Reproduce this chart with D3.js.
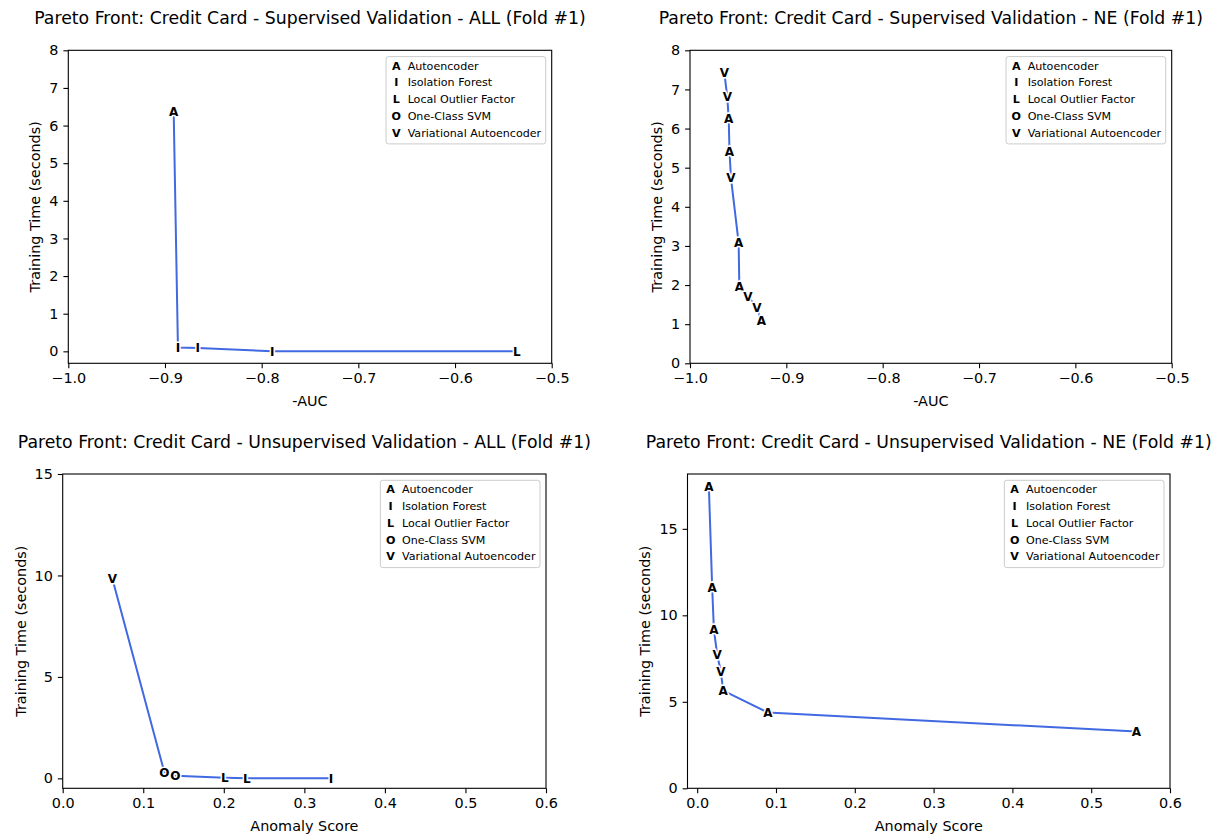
<!DOCTYPE html>
<html>
<head>
<meta charset="utf-8">
<script src="https://cdn.jsdelivr.net/npm/d3@7"></script>
<style>
body { margin: 0; background: #fff; }
text { font-family: "DejaVu Sans", sans-serif; }
</style>
</head>
<body>
<svg id="chart" width="1220" height="836"></svg>
<script>
// legend entries
var legendCodes = ["A", "I", "L", "O", "V"];
var legendNames = ["Autoencoder", "Isolation Forest", "Local Outlier Factor", "One-Class SVM", "Variational Autoencoder"];

// Supervised validation - ALL
var supAllModel = ["A", "I", "I", "I", "L"];
var supAllAUC   = [-0.891, -0.8866, -0.866, -0.789, -0.536];
var supAllTime  = [6.37, 0.10, 0.09, 0.0, 0.0];

// Supervised validation - NE
var supNeModel = ["V", "V", "A", "A", "V", "A", "A", "V", "V", "A"];
var supNeAUC   = [-0.9644, -0.9613, -0.9598, -0.959, -0.9575, -0.9495, -0.9488, -0.9398, -0.9305, -0.926];
var supNeTime  = [7.43, 6.81, 6.24, 5.42, 4.74, 3.08, 1.96, 1.70, 1.43, 1.08];

// Unsupervised validation - ALL
var unsAllModel = ["V", "O", "O", "L", "L", "I"];
var unsAllScore = [0.0616, 0.1262, 0.140, 0.2012, 0.2286, 0.333];
var unsAllTime  = [9.85, 0.30, 0.13, 0.03, 0.0, 0.0];

// Unsupervised validation - NE
var unsNeModel = ["A", "A", "A", "V", "V", "A", "A", "A"];
var unsNeScore = [0.0148, 0.019, 0.0212, 0.0254, 0.030, 0.033, 0.0897, 0.5574];
var unsNeTime  = [17.46, 11.62, 9.17, 7.72, 6.75, 5.65, 4.38, 3.28];

// tick values
var aucTicks   = [-1.0, -0.9, -0.8, -0.7, -0.6, -0.5];
var scoreTicks = [0.0, 0.1, 0.2, 0.3, 0.4, 0.5, 0.6];
var time8Ticks  = [0, 1, 2, 3, 4, 5, 6, 7, 8];
var time15Ticks = [0, 5, 10, 15];

var svg = d3.select("#chart");
var lineColor = "#4169e1";

var panels = [
    { title: "Pareto Front: Credit Card - Supervised Validation - ALL (Fold #1)",
      xlabel: "-AUC", model: supAllModel, xs: supAllAUC, ys: supAllTime,
      box: [68.3, 551.7, 50.3, 363.3], xdom: [-1.0, -0.5], ydom: [-0.318, 8],
      xticks: aucTicks, yticks: time8Ticks },
    { title: "Pareto Front: Credit Card - Supervised Validation - NE (Fold #1)",
      xlabel: "-AUC", model: supNeModel, xs: supNeAUC, ys: supNeTime,
      box: [690, 1171.7, 50.3, 363.3], xdom: [-1.0, -0.5], ydom: [0, 8],
      xticks: aucTicks, yticks: time8Ticks },
    { title: "Pareto Front: Credit Card - Unsupervised Validation - ALL (Fold #1)",
      xlabel: "Anomaly Score", model: unsAllModel, xs: unsAllScore, ys: unsAllTime,
      box: [62.7, 546, 474, 788.3], xdom: [0, 0.6], ydom: [-0.49, 15],
      xticks: scoreTicks, yticks: time15Ticks },
    { title: "Pareto Front: Credit Card - Unsupervised Validation - NE (Fold #1)",
      xlabel: "Anomaly Score", model: unsNeModel, xs: unsNeScore, ys: unsNeTime,
      box: [687.5, 1170, 474, 788.3], xdom: [-0.0123, 0.6], ydom: [0, 18.17],
      xticks: scoreTicks, yticks: time15Ticks }
];

var fsTick = 14.4, fsTitle = 17.3, fsLegend = 11.1, fsMark = 12;

function styleAxis(sel) {
    sel.attr("font-family", "DejaVu Sans").attr("font-size", fsTick);
    sel.select(".domain").remove();
    sel.selectAll(".tick line").attr("stroke", "#000").attr("stroke-width", 1.1);
    sel.selectAll(".tick text").attr("fill", "#000");
}

panels.forEach(function(p) {
    var L = p.box[0], R = p.box[1], T = p.box[2], B = p.box[3];
    var g = svg.append("g");
    var x = d3.scaleLinear().domain(p.xdom).range([L, R]);
    var y = d3.scaleLinear().domain(p.ydom).range([B, T]);

    g.append("g").attr("transform", "translate(0," + B + ")")
	.call(d3.axisBottom(x).tickValues(p.xticks).tickFormat(d3.format(".1f"))
	      .tickSize(4.9).tickPadding(4.9).tickSizeOuter(0))
	.call(styleAxis);
    var ya = g.append("g").attr("transform", "translate(" + L + ",0)")
	.call(d3.axisLeft(y).tickValues(p.yticks).tickFormat(d3.format("d"))
	      .tickSize(4.9).tickPadding(4.9).tickSizeOuter(0))
	.call(styleAxis);

    g.append("rect").attr("x", L).attr("y", T)
	.attr("width", R - L).attr("height", B - T)
	.attr("fill", "none").attr("stroke", "#000").attr("stroke-width", 1.1);

    var pts = p.xs.map(function(v, i) { return { x: v, y: p.ys[i], m: p.model[i] }; });
    g.append("path").datum(pts)
	.attr("d", d3.line().x(function(d) { return x(d.x); }).y(function(d) { return y(d.y); }))
	.attr("fill", "none").attr("stroke", lineColor).attr("stroke-width", 2);

    g.selectAll("text.mk").data(pts).enter().append("text")
	.attr("class", "mk")
	.attr("x", function(d) { return x(d.x); })
	.attr("y", function(d) { return y(d.y); })
	.attr("dy", "0.36em")
	.attr("text-anchor", "middle")
	.attr("font-size", fsMark).attr("font-weight", "bold")
	.attr("fill", "#000").attr("stroke", "#fff").attr("stroke-width", 3)
	.attr("paint-order", "stroke")
	.text(function(d) { return d.m; });

    // legend
    var lg = g.append("g");
    var frame = lg.append("rect");
    var widest = 0;
    legendCodes.forEach(function(c, i) {
	var cy = 9 + i * 16.8;
	lg.append("text").attr("x", 10.3).attr("y", cy).attr("dy", "0.36em")
	    .attr("text-anchor", "middle").attr("font-size", fsLegend).attr("font-weight", "bold")
	    .text(c);
	var t = lg.append("text").attr("x", 21.6).attr("y", cy).attr("dy", "0.36em")
	    .attr("font-size", fsLegend).text(legendNames[i]);
	widest = Math.max(widest, t.node().getComputedTextLength());
    });
    var lw = 21.6 + widest + 4.5, lh = 87.3;
    frame.attr("width", lw).attr("height", lh).attr("rx", 2.5)
	.attr("fill", "#fff").attr("fill-opacity", 0.8)
	.attr("stroke", "#cccccc").attr("stroke-width", 1);
    lg.attr("transform", "translate(" + (R - 6 - lw) + "," + (T + 6.3) + ")");

    // titles and labels
    g.append("text").attr("x", (L + R) / 2).attr("y", T - 26)
	.attr("text-anchor", "middle").attr("font-size", fsTitle).text(p.title);
    g.append("text").attr("x", (L + R) / 2).attr("y", B + 42.5)
	.attr("text-anchor", "middle").attr("font-size", fsTick).text(p.xlabel);
    var bb = ya.node().getBBox();
    var lx = L + bb.x - 8.9;
    g.append("text").attr("transform", "translate(" + lx + "," + ((T + B) / 2) + ") rotate(-90)")
	.attr("text-anchor", "middle").attr("font-size", fsTick).text("Training Time (seconds)");
});
</script>
</body>
</html>
